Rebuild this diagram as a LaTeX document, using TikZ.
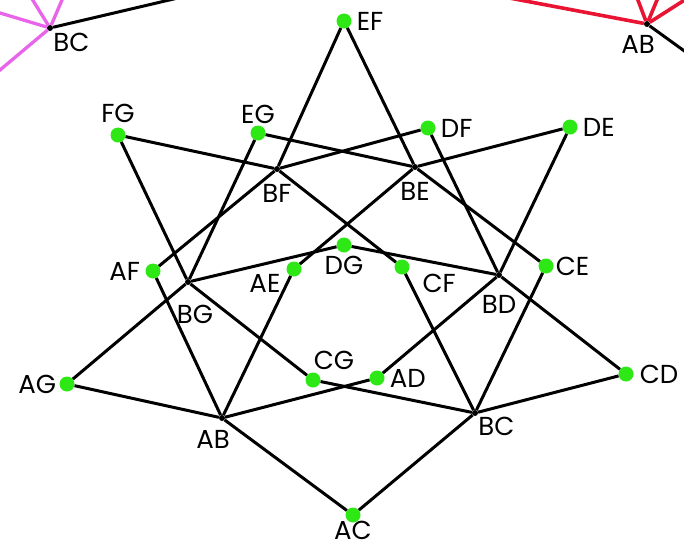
\documentclass[tikz,border=0pt]{standalone}
\usepackage{fontspec}
\setmainfont{Poppins}
\usetikzlibrary{positioning}
\definecolor{dotgreen}{RGB}{45,232,20}
\definecolor{linkpink}{RGB}{232,100,232}
\definecolor{linkred}{RGB}{232,20,50}

\begin{document}
\begin{tikzpicture}[x=1pt,y=-1pt,
    pair/.style={circle,fill=dotgreen,inner sep=0pt,minimum size=15pt},
    hub/.style={circle,fill=black,inner sep=0pt,minimum size=6pt},
    tag/.style={inner sep=0pt,font=\fontsize{26}{30}\selectfont},
    link/.style={line width=3pt}]
\useasboundingbox (0,0) rectangle (684,546);
\clip (0,0) rectangle (684,546);

\node [hub] (BCcorner) at (50,28) {};
\node [hub] (ABcorner) at (647,24) {};
\coordinate (pk1) at (-50,-2);
\coordinate (pk2) at (24,-14);
\coordinate (pk3) at (68,-14);
\coordinate (pk4) at (-50,112);
\coordinate (bk1) at (229,-14);
\coordinate (rd1) at (393,-24);
\coordinate (rd2) at (633,-13);
\coordinate (rd3) at (662,-12);
\coordinate (rd4) at (719,-22);
\coordinate (bk2) at (719,76);
\foreach \e in {pk1,pk2,pk3,pk4}
    \draw [link,linkpink,line width=3.3pt] (BCcorner) -- (\e);
\foreach \e in {rd1,rd2,rd3,rd4}
    \draw [link,linkred,line width=3.6pt] (ABcorner) -- (\e);
\draw [link] (BCcorner) -- (bk1);
\draw [link] (ABcorner) -- (bk2);
\node [tag,below right=3pt and 1pt of BCcorner] (tBCcorner) {BC};
\node [tag,below=8pt of ABcorner,xshift=-9pt] (tABcorner) {AB};

\node [pair] (EF) at (344,21) {};
\node [pair] (FG) at (118,135) {};
\node [pair] (EG) at (258,133) {};
\node [pair] (DF) at (428,128) {};
\node [pair] (DE) at (570,127) {};
\node [pair] (AF) at (153,271) {};
\node [pair] (AE) at (294,269) {};
\node [pair] (DG) at (344,245) {};
\node [pair] (CF) at (402,267) {};
\node [pair] (CE) at (546,266) {};
\node [pair] (AG) at (67,384) {};
\node [pair] (CG) at (313,380) {};
\node [pair] (AD) at (377,378) {};
\node [pair] (CD) at (626,374) {};
\node [pair] (AC) at (353,515) {};
\node [hub] (BF) at (277,169) {};
\node [hub] (BE) at (415,167) {};
\node [hub] (BG) at (188,282) {};
\node [hub] (BD) at (499,275) {};
\node [hub] (AB) at (222,418) {};
\node [hub] (BC) at (475,413) {};

\foreach \p/\a/\b in {EF/BE/BF, FG/BF/BG, EG/BE/BG, DF/BD/BF, DE/BD/BE,
        AF/AB/BF, AE/AB/BE, DG/BD/BG, CF/BC/BF, CE/BC/BE,
        AG/AB/BG, CG/BC/BG, AD/AB/BD, CD/BC/BD, AC/AB/BC}
    \draw [link] (\a) -- (\p) -- (\b);

\node [tag,right=5pt of EF] (tEF) {EF};
\node [tag,above=4pt of FG] (tFG) {FG};
\node [tag,above=1pt of EG] (tEG) {EG};
\node [tag,right=5pt of DF] (tDF) {DF};
\node [tag,right=5pt of DE] (tDE) {DE};
\node [tag,below=12pt of BF] (tBF) {BF};
\node [tag,below=12pt of BE] (tBE) {BE};
\node [tag,left=5pt of AF] (tAF) {AF};
\node [tag,below left=0pt and 8pt of AE] (tAE) {AE};
\node [tag,below=3pt of DG] (tDG) {DG};
\node [tag,below right=1pt and 15pt of CF] (tCF) {CF};
\node [tag,right=2pt of CE] (tCE) {CE};
\node [tag,below=20pt of BG,xshift=7pt] (tBG) {BG};
\node [tag,below=17pt of BD] (tBD) {BD};
\node [tag,left=3pt of AG] (tAG) {AG};
\node [tag,below=9pt of AB,xshift=-9pt] (tAB) {AB};
\node [tag,above=2pt of CG,xshift=21pt] (tCG) {CG};
\node [tag,right=5pt of AD] (tAD) {AD};
\node [tag,right=6pt of CD] (tCD) {CD};
\node [tag,below right=2pt and 1pt of BC] (tBC) {BC};
\node [tag,below=-2pt of AC] (tAC) {AC};
\end{tikzpicture}
\end{document}
